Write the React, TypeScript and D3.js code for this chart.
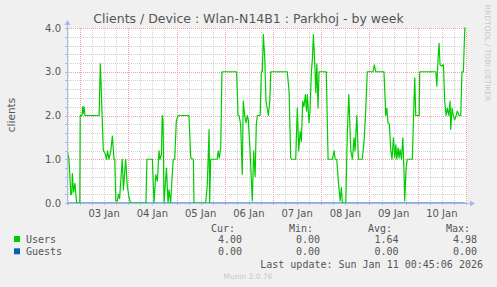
import React from "react";
import * as d3 from "d3";

// hours since 03 Jan 00:00
const userHours = [-6.3,-5.5,-5.0,-4.6,-4.1,-3.8,-3.2,-2.5,-1.7,-0.1,0.1,1.0,1.3,1.6,2.0,2.5,9.5,10.1,10.6,11.6,12.4,13.2,13.7,14.4,15.3,16.1,16.9,17.3,17.8,18.6,19.1,19.7,21.0,21.6,22.7,23.5,24.4,25.2,
32.8,33.3,36.0,36.8,37.7,38.5,39.3,39.8,40.5,40.9,41.3,41.8,43.0,43.8,44.3,45.1,45.9,46.4,47.1,47.9,48.8,54.2,55.1,56.4,56.7,62.5,63.3,64.2,64.5,65.0,68.3,68.7,69.3,70.0,70.6,
77.9,78.6,79.1,79.9,80.7,81.2,81.9,82.6,83.2,83.7,84.6,85.7,86.4,87.1,87.7,88.2,89.6,90.2,90.7,91.2,91.9,92.5,93.0,93.7,94.4,94.9,103.1,104.0,104.8,105.3,107.3,108.1,108.8,109.5,110.1,110.8,111.4,112.1,112.7,113.1,113.9,114.4,115.1,115.6,116.1,116.8,117.3,117.8,118.4,118.9,
122.5,123.4,125.5,126.4,126.9,127.7,128.5,129.4,130.0,130.5,132.2,133.0,133.7,134.7,135.5,136.3,136.8,137.7,138.5,140.4,141.3,142.1,142.9,145.8,146.4,147.1,151.2,152.1,152.6,153.2,153.9,154.6,155.2,155.9,156.6,157.1,157.6,158.2,158.7,159.2,159.9,160.6,161.2,161.5,162.2,162.8,
165.3,165.8,166.5,167.0,168.7,169.0,177.0,177.5,178.1,178.6,179.1,179.8,180.8,181.4,182.1,182.7,183.4,184.1,184.4,185.1,185.7,186.4,187.1,187.7,188.6,189.4,190.0,190.7,191.4,191.7];
const userValues = [1.18,1.0,0.6,0.19,0.2,0.67,0.25,0.45,0,0,2.0,2.0,2.2,2.05,2.2,2.0,2.0,3.18,2.55,1.19,1.15,1.0,1.19,1.0,1.19,1.53,1.0,1.0,0.05,0.05,0.2,0.1,1.0,0.3,1.0,0.4,0.12,0,
0,1.0,1.0,0,0.65,0.5,1.19,1.0,1.1,2.0,1.9,0,0.8,0,0.3,0,0.65,1.0,1.0,1.87,2.0,2.0,1.03,1.0,0,0,0.4,1.68,0,1.0,1.0,1.19,1.03,1.26,3.0,
3.0,2.0,2.0,1.8,0.65,2.33,2.0,1.83,2.0,1.9,1.2,0.05,1.19,0.6,1.8,2.0,2.0,3.0,3.0,3.85,3.3,2.33,2.2,2.0,2.33,3.0,3.0,2.55,1.03,1.0,1.0,2.17,1.19,1.64,1.41,2.33,2.2,2.48,2.1,2.48,1.83,2.1,3.0,3.3,3.85,3.16,2.52,3.18,2.17,3.0,
3.0,1.0,1.0,1.19,1.0,1.0,0.5,0.05,0.35,0,0,1.64,2.48,1.19,1.0,1.49,1.19,2.0,1.0,1.0,1.41,2.1,3.0,3.0,3.16,3.0,3.0,2.0,2.17,1.83,1.8,1.19,1.0,1.49,1.03,1.33,1.0,1.26,1.03,1.22,1.0,1.49,0.65,0.05,0.8,1.0,
1.0,1.8,2.86,2.0,2.0,3.0,3.0,2.67,3.3,3.65,3.16,3.13,3.16,2.33,2.0,2.17,2.0,2.33,1.68,2.17,2.0,1.9,2.0,2.1,2.0,2.0,3.0,3.0,4.0,4.0];

const dayLabels = ["03 Jan","04 Jan","05 Jan","06 Jan","07 Jan","08 Jan","09 Jan","10 Jan"];
const yTickLabels = ["0.0","1.0","2.0","3.0","4.0"];
const legendNames = ["Users","Guests"];
const legendColors = ["#00CC00","#0066B3"];
const curValues = ["4.00","0.00"];
const minValues = ["0.00","0.00"];
const avgValues = ["1.64","0.00"];
const maxValues = ["4.98","0.00"];

const BASE = Date.UTC(2026, 0, 3, 0, 0);
const H = 3600e3;
const PL = 67, PR = 467, PT = 28, PB = 203;

export default function App() {
  const x = d3.scaleUtc()
    .domain([new Date(BASE - 6.47 * H), new Date(BASE + 192.5 * H)])
    .range([PL, PR]);
  const y = d3.scaleLinear().domain([0, 4]).range([PB, PT]);

  const users = userHours.map((h, i) => ({ t: new Date(BASE + h * H), v: userValues[i] }));
  const line = d3.line<{ t: Date; v: number }>().x(d => x(d.t)).y(d => y(Math.min(4, d.v)));
  const guestLine = `M${PL},${PB}H${x(new Date(BASE + 191.7 * H))}`;

  const minorTimes = d3.utcHour.every(6)!.range(x.domain()[0], x.domain()[1]);
  const dayTimes = d3.utcDay.range(x.domain()[0], new Date(x.domain()[1].getTime() + 1));
  const noonTimes = dayLabels.map((_, i) => new Date(BASE + (i * 24 + 12) * H));
  const minorVals = d3.range(0, 21).map(i => i * 0.2).filter(v => Math.abs(v - Math.round(v)) > 1e-6);
  const majorVals = yTickLabels.map(s => +s);

  const fg = "#555";
  const mono = "DejaVu Sans Mono, monospace";
  const sans = "DejaVu Sans, sans-serif";
  const axisCol = "#a9b8ea";

  return (
    <svg width={497} height={287} style={{ position: "absolute", left: 0, top: 0, background: "#F0F0F0" }}>
      <rect x={0} y={0} width={497} height={287} fill="#F0F0F0" />
      <rect x={PL} y={PT} width={PR - PL} height={PB - PT} fill="#FFFFFF" />
      {minorTimes.map((t, i) => (
        <line key={"mv" + i} x1={Math.round(x(t)) + 0.5} x2={Math.round(x(t)) + 0.5} y1={PT} y2={PB}
          stroke="#d2d2d2" strokeDasharray="1,1" />
      ))}
      {minorVals.map((v, i) => (
        <line key={"mh" + i} x1={PL} x2={PR} y1={Math.round(y(v)) + 0.5} y2={Math.round(y(v)) + 0.5}
          stroke="#d2d2d2" strokeDasharray="1,1" />
      ))}
      {dayTimes.map((t, i) => (
        <line key={"dv" + i} x1={Math.round(x(t)) + 0.5} x2={Math.round(x(t)) + 0.5} y1={PT} y2={PB}
          stroke="#f0a0a0" strokeDasharray="1,1" />
      ))}
      {majorVals.map((v, i) => (
        <line key={"dh" + i} x1={PL} x2={PR} y1={Math.round(y(v)) + 0.5} y2={Math.round(y(v)) + 0.5}
          stroke="#f0a0a0" strokeDasharray="1,1" />
      ))}
      {/* tick marks */}
      {[...minorVals, ...majorVals].map((v, i) => (
        <line key={"yt" + i} x1={PL - 2} x2={PL} y1={Math.round(y(v)) + 0.5} y2={Math.round(y(v)) + 0.5} stroke={axisCol} />
      ))}
      {[...minorTimes, ...dayTimes].map((t, i) => (
        <line key={"xt" + i} x1={Math.round(x(t)) + 0.5} x2={Math.round(x(t)) + 0.5} y1={PB} y2={PB + 2} stroke={axisCol} />
      ))}
      <path d={guestLine} fill="none" stroke="#0066B3" strokeWidth={1} />
      <path d={line(users) || ""} fill="none" stroke="#00CC00" strokeWidth={1.2} strokeLinejoin="round" />
      {/* axes */}
      <line x1={PL + 0.5} x2={PL + 0.5} y1={PB + 2} y2={PT - 4} stroke={axisCol} />
      <path d={`M${PL - 2.5},${PT - 3}L${PL + 0.5},${PT - 8}L${PL + 3.5},${PT - 3}Z`} fill={axisCol} />
      <line x1={PL - 2} x2={PR + 4} y1={PB + 0.5} y2={PB + 0.5} stroke={axisCol} />
      <path d={`M${PR + 3},${PB - 2.5}L${PR + 8},${PB + 0.5}L${PR + 3},${PB + 3.5}Z`} fill={axisCol} />
      {/* y labels */}
      {majorVals.map((v, i) => (
        <text key={"yl" + i} x={61} y={y(v) + 3.5} textAnchor="end" fontFamily={sans} fontSize={10} fill={fg}>{yTickLabels[i]}</text>
      ))}
      {noonTimes.map((t, i) => (
        <text key={"xl" + i} x={x(t)} y={216.5} textAnchor="middle" fontFamily={sans} fontSize={10} fill={fg}>{dayLabels[i]}</text>
      ))}
      <text transform="translate(14.5,115) rotate(-90)" textAnchor="middle" fontFamily={sans} fontSize={10.5} fill={fg}>clients</text>
      <text x={248.5} y={23} textAnchor="middle" fontFamily={sans} fontSize={12.5} fill={fg}>Clients / Device : Wlan-N14B1 : Parkhoj - by week</text>
      <text transform="translate(485,53) rotate(90)" textAnchor="middle" fontFamily={sans} fontSize={7.5} fill="#c8c8c8">RRDTOOL / TOBI OETIKER</text>
      {/* legend */}
      <g fontFamily={mono} fontSize={10} fill={fg}>
        <text x={235} y={231.5} textAnchor="end">Cur:</text>
        <text x={313} y={231.5} textAnchor="end">Min:</text>
        <text x={392} y={231.5} textAnchor="end">Avg:</text>
        <text x={470} y={231.5} textAnchor="end">Max:</text>
        {legendNames.map((n, i) => (
          <g key={n}>
            <rect x={14} y={236 + i * 12.3} width={6} height={6} fill={legendColors[i]} />
            <text x={26} y={243 + i * 12.3}>{n}</text>
            <text x={242} y={243 + i * 12.3} textAnchor="end">{curValues[i]}</text>
            <text x={320} y={243 + i * 12.3} textAnchor="end">{minValues[i]}</text>
            <text x={398.5} y={243 + i * 12.3} textAnchor="end">{avgValues[i]}</text>
            <text x={477} y={243 + i * 12.3} textAnchor="end">{maxValues[i]}</text>
          </g>
        ))}
        <text x={483} y={267.5} textAnchor="end">Last update: Sun Jan 11 00:45:06 2026</text>
      </g>
      <text x={248} y={279} textAnchor="middle" fontFamily={sans} fontSize={7.5} fill="#c8c8c8">Munin 2.0.76</text>
    </svg>
  );
}
